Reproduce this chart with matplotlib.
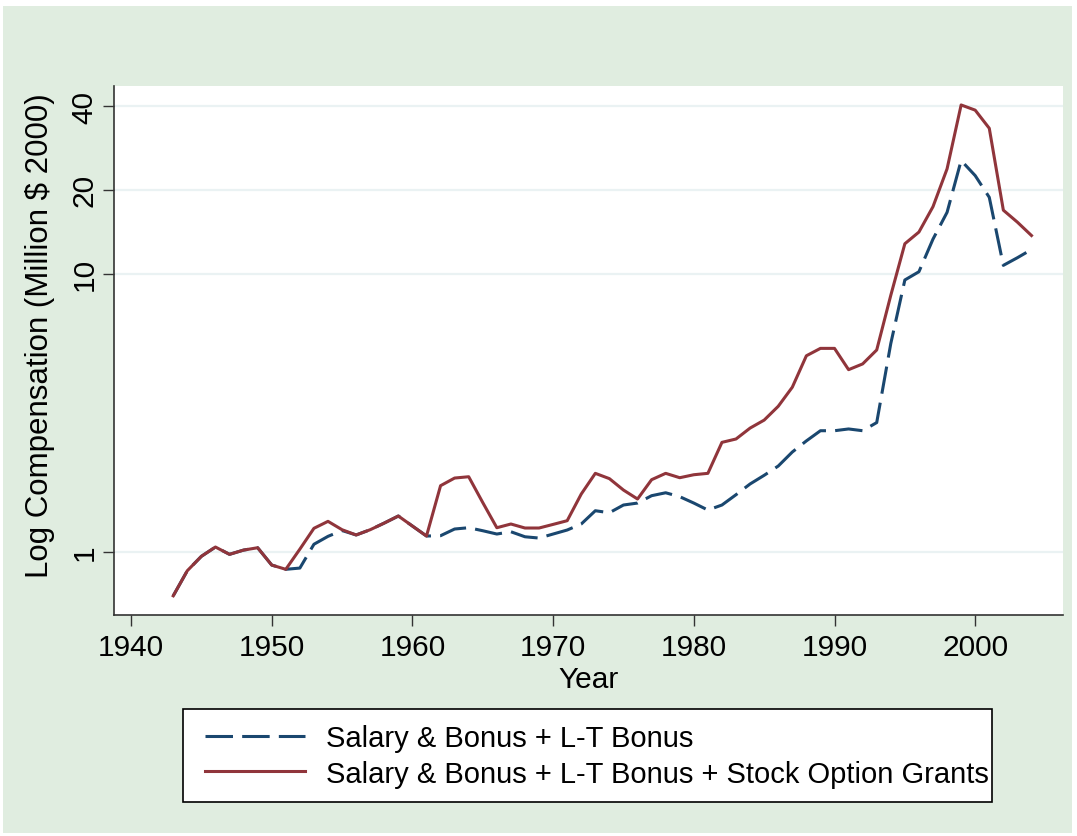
import matplotlib
matplotlib.use("Agg")
import matplotlib.pyplot as plt
from matplotlib.patches import Rectangle

plt.rcParams['font.family'] = ['Liberation Sans', 'DejaVu Sans']

years = list(range(1943, 2005))

# salary & bonus + long-term bonus (million $ 2000)
cash = [0.693, 0.853, 0.961, 1.038, 0.977, 1.012, 1.032, 0.894, 0.863, 0.872,
        1.062, 1.134, 1.190, 1.147, 1.198, 1.266, 1.342, 1.235, 1.137, 1.140,
        1.205, 1.218, 1.188, 1.156, 1.178, 1.130, 1.118, 1.156, 1.195, 1.256,
        1.402, 1.379, 1.470, 1.494, 1.588, 1.627, 1.575, 1.494, 1.410, 1.470,
        1.601, 1.750, 1.880, 2.030, 2.280, 2.500, 2.720, 2.720, 2.760, 2.720,
        2.910, 5.600, 9.480, 10.15, 13.30, 16.60, 25.50, 22.50, 18.80, 10.70,
        11.40, 12.20]

# ... + stock option grants
total = [0.693, 0.853, 0.961, 1.038, 0.977, 1.012, 1.032, 0.894, 0.863, 1.020,
         1.212, 1.284, 1.198, 1.147, 1.198, 1.266, 1.342, 1.235, 1.137, 1.725,
         1.838, 1.858, 1.500, 1.218, 1.256, 1.215, 1.215, 1.252, 1.291, 1.610,
         1.911, 1.829, 1.664, 1.545, 1.813, 1.911, 1.843, 1.889, 1.911, 2.470,
         2.540, 2.780, 2.970, 3.330, 3.900, 5.060, 5.380, 5.380, 4.510, 4.730,
         5.310, 8.350, 12.80, 14.10, 17.40, 23.80, 40.40, 38.70, 33.30, 16.90,
         15.30, 13.70]

labels = ['Salary & Bonus + L-T Bonus',
          'Salary & Bonus + L-T Bonus + Stock Option Grants']
x_ticks = [1940, 1950, 1960, 1970, 1980, 1990, 2000]
y_ticks = [1, 10, 20, 40]

W, H = 1077, 837
fig = plt.figure(figsize=(W / 100, H / 100), dpi=100)
fig.patch.set_facecolor('white')
fig.patches.append(Rectangle((3 / W, 3 / H), 1069 / W, 827 / H,
                             transform=fig.transFigure, facecolor='#e0ede0',
                             edgecolor='none', zorder=-10))

ax = fig.add_axes([114 / W, 1 - 615.7 / H, 949 / W, 528.7 / H])
ax.set_facecolor('white')

navy = '#1a476f'
maroon = '#90353b'
ax.plot(years, cash, color=navy, lw=2.2, dashes=(9, 3), label=labels[0])
ax.plot(years, total, color=maroon, lw=2.2, label=labels[1])

ax.set_yscale('log')
ax.set_xlim(1938.79, 2006.24)
ax.set_ylim(0.5926, 47.27)
ax.set_xticks(x_ticks)
ax.set_yticks(y_ticks)
ax.set_yticklabels([str(v) for v in y_ticks])
ax.yaxis.set_minor_locator(matplotlib.ticker.NullLocator())
for v in y_ticks:
    ax.axhline(v, color='#eaf2f3', lw=1.6, zorder=0)

for s in ['top', 'right']:
    ax.spines[s].set_visible(False)
for s in ['left', 'bottom']:
    ax.spines[s].set_color('#333333')
    ax.spines[s].set_linewidth(1.2)

ax.tick_params(axis='both', length=8, width=1, color='#333333', labelsize=21.5)
ax.tick_params(axis='x', pad=5)
ax.tick_params(axis='y', pad=3)
for lab in ax.get_yticklabels():
    lab.set_rotation(90)
    lab.set_va('center')

ax.set_xlabel('Year', fontsize=21.5, labelpad=3)
ax.set_ylabel('Log Compensation (Million $ 2000)', fontsize=22.5)
ax.yaxis.set_label_coords(-0.062, 0.529)

# legend box drawn separately so the entries can sit like the original
fig.patches.append(Rectangle((183 / W, 1 - 803 / H), 809 / W, 93 / H,
                             transform=fig.transFigure, facecolor='white',
                             edgecolor='black', lw=1.2, zorder=1))
leg = fig.legend(loc='center left', bbox_to_anchor=(190 / W, 1 - 757 / H),
                 fontsize=21, handlelength=3.45, handletextpad=0.7,
                 labelspacing=0.25, borderpad=0, frameon=False)
leg.set_zorder(2)

fig.savefig('out.png', dpi=100)
